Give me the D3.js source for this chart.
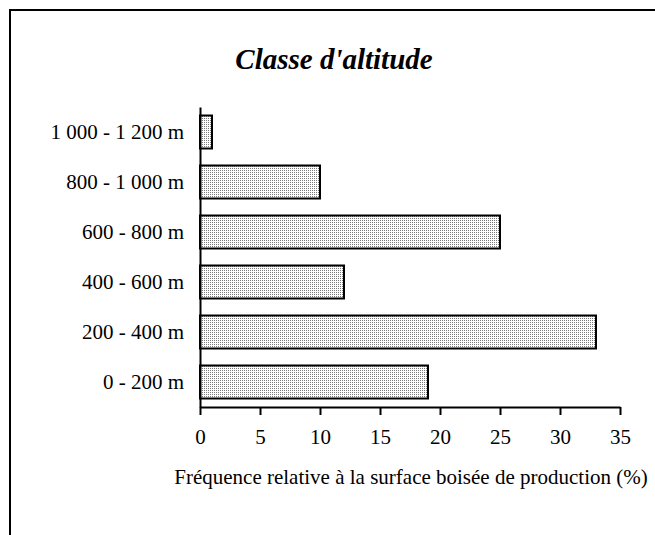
<!DOCTYPE html>
<html>
<head>
<meta charset="utf-8">
<script src="https://cdn.jsdelivr.net/npm/d3@7"></script>
<style>
html,body{margin:0;padding:0;background:#fff;}
svg{display:block;}
</style>
</head>
<body>
<svg id="chart" width="655" height="535"></svg>
<script>
const categories = ["0 - 200 m","200 - 400 m","400 - 600 m","600 - 800 m","800 - 1 000 m","1 000 - 1 200 m"];
const values = [19, 33, 12, 25, 10, 1];
const xTicks = [0,5,10,15,20,25,30,35];
const title = "Classe d'altitude";
const xTitle = "Fréquence relative à la surface boisée de production (%)";

const svg = d3.select("#chart");
const font = "'Liberation Serif','Times New Roman',serif";

// frame (top and left edges visible)
svg.append("path").attr("d","M10,535V10H655").attr("fill","none").attr("stroke","#000").attr("stroke-width",2);

const defs = svg.append("defs");
const pat = defs.append("pattern").attr("id","dots").attr("patternUnits","userSpaceOnUse")
  .attr("width",2).attr("height",2);
pat.append("rect").attr("width",2).attr("height",2).attr("fill","#fff");
pat.append("rect").attr("width",1).attr("height",1).attr("fill","#7a7a7a");

const x = d3.scaleLinear().domain([0,35]).range([200,620]);
const y = d3.scaleBand().domain(categories.slice().reverse()).range([107,407]).paddingInner(0.34).paddingOuter(0.17);

svg.append("g").selectAll("rect").data(categories).join("rect")
  .attr("x", x(0))
  .attr("y", d => y(d))
  .attr("width", (d,i) => x(values[i]) - x(0))
  .attr("height", y.bandwidth())
  .attr("fill","url(#dots)")
  .attr("stroke","#000").attr("stroke-width",2);

const xAxis = svg.append("g").attr("transform","translate(0,407)")
  .call(d3.axisBottom(x).tickValues(xTicks).tickSize(8).tickPadding(14).tickSizeOuter(0));
xAxis.select(".domain").attr("stroke-width",2);
xAxis.selectAll(".tick line").attr("stroke-width",2);
xAxis.selectAll("text").attr("font-family",font).attr("font-size",21).attr("fill","#000");

const yAxis = svg.append("g").attr("transform","translate(200,0)")
  .call(d3.axisLeft(y).tickSize(0).tickPadding(16).tickSizeOuter(0));
yAxis.select(".domain").attr("stroke-width",2);
yAxis.selectAll("text").attr("font-family",font).attr("font-size",21).attr("fill","#000");

svg.append("text").attr("x",334).attr("y",69).attr("text-anchor","middle")
  .attr("font-family",font).attr("font-size",29).attr("font-weight","bold").attr("font-style","italic")
  .text(title);

svg.append("text").attr("x",411).attr("y",484).attr("text-anchor","middle")
  .attr("font-family",font).attr("font-size",21)
  .text(xTitle);
</script>
</body>
</html>
